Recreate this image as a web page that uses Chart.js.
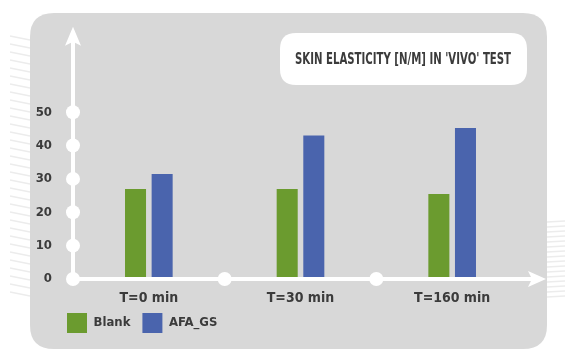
<!DOCTYPE html>
<html>
<head>
<meta charset="utf-8">
<script src="https://cdn.jsdelivr.net/npm/chart.js@4.4.1/dist/chart.umd.min.js"></script>
<style>
  html, body { margin: 0; padding: 0; background: #ffffff; }
  #wrap { width: 565px; height: 351px; }
</style>
</head>
<body>
<div id="wrap"><canvas id="chart" width="565" height="351"></canvas></div>
<script>
// Chart data
const categories = ['T=0 min', 'T=30 min', 'T=160 min'];
const blankValues = [27, 27, 25.5];
const afaGsValues = [31.5, 43, 45.3];
const yTickValues = [0, 10, 20, 30, 40, 50];
const chartTitle = "SKIN ELASTICITY [N/M] IN 'VIVO' TEST";

const FONT = "'Liberation Sans Narrow', 'DejaVu Sans Condensed', 'Roboto', sans-serif";
const TEXT_COLOR = '#3b3b3b';
const PANEL_COLOR = '#d8d8d8';

function roundRect(ctx, x, y, w, h, r) {
  ctx.beginPath();
  ctx.moveTo(x + r, y);
  ctx.lineTo(x + w - r, y);
  ctx.quadraticCurveTo(x + w, y, x + w, y + r);
  ctx.lineTo(x + w, y + h - r);
  ctx.quadraticCurveTo(x + w, y + h, x + w - r, y + h);
  ctx.lineTo(x + r, y + h);
  ctx.quadraticCurveTo(x, y + h, x, y + h - r);
  ctx.lineTo(x, y + r);
  ctx.quadraticCurveTo(x, y, x + r, y);
  ctx.closePath();
}

// Grey panel, decorative hatching and the title box
const backdrop = {
  id: 'backdrop',
  afterLayout(chart) {
    // move the legend under the y axis, like the original
    const lg = chart.legend;
    const w = lg.right - lg.left;
    lg.left = 55;
    lg.right = 55 + w;
    const h = lg.bottom - lg.top;
    lg.top = 301;
    lg.bottom = 301 + h;
  },
  beforeDraw(chart) {
    const ctx = chart.ctx;
    ctx.save();
    ctx.fillStyle = '#ffffff';
    ctx.fillRect(0, 0, chart.width, chart.height);

    // faint hatching outside the panel
    ctx.strokeStyle = '#ececec';
    ctx.lineWidth = 1.5;
    for (let y = 36; y < 300; y += 8) {
      ctx.beginPath();
      ctx.moveTo(10, y);
      ctx.lineTo(30, y + 4);
      ctx.stroke();
    }
    for (let y = 222; y < 300; y += 5) {
      ctx.beginPath();
      ctx.moveTo(547, y);
      ctx.lineTo(565, y - 1);
      ctx.stroke();
    }

    ctx.fillStyle = PANEL_COLOR;
    roundRect(ctx, 30, 13, 517, 336, 24);
    ctx.fill();

    // title box
    ctx.fillStyle = '#ffffff';
    roundRect(ctx, 280, 33, 247, 52, 16);
    ctx.fill();
    ctx.fillStyle = TEXT_COLOR;
    ctx.font = 'bold 16px ' + FONT;
    ctx.textAlign = 'center';
    ctx.textBaseline = 'middle';
    ctx.fillText(chartTitle, 403, 60, 216);
    ctx.restore();
  }
};

// Axis extensions, arrow heads and white dots
const axisDecor = {
  id: 'axisDecor',
  afterDatasetsDraw(chart) {
    const ctx = chart.ctx;
    const x = chart.scales.x;
    const y = chart.scales.y;
    const area = chart.chartArea;
    const x0 = area.left;
    const y0 = y.getPixelForValue(0);
    ctx.save();
    ctx.strokeStyle = '#ffffff';
    ctx.fillStyle = '#ffffff';
    ctx.lineWidth = 4;
    // x axis line
    ctx.beginPath();
    ctx.moveTo(x0, y0);
    ctx.lineTo(area.right + 10, y0);
    ctx.stroke();
    // y axis line
    ctx.beginPath();
    ctx.moveTo(x0, y0);
    ctx.lineTo(x0, area.top + 10);
    ctx.stroke();
    // arrow heads
    ctx.beginPath();
    ctx.moveTo(area.right + 18, y0);
    ctx.lineTo(area.right, y0 - 8);
    ctx.lineTo(area.right + 4, y0);
    ctx.lineTo(area.right, y0 + 8);
    ctx.closePath();
    ctx.fill();
    ctx.beginPath();
    ctx.moveTo(x0, area.top - 2);
    ctx.lineTo(x0 - 8, area.top + 17);
    ctx.lineTo(x0, area.top + 13);
    ctx.lineTo(x0 + 8, area.top + 17);
    ctx.closePath();
    ctx.fill();
    // dots on y ticks
    yTickValues.forEach(v => {
      ctx.beginPath();
      ctx.arc(x0, y.getPixelForValue(v), 7, 0, Math.PI * 2);
      ctx.fill();
    });
    // dots between categories
    for (let i = 1; i < categories.length; i++) {
      const px = (x.getPixelForValue(i - 1) + x.getPixelForValue(i)) / 2;
      ctx.beginPath();
      ctx.arc(px, y0, 7, 0, Math.PI * 2);
      ctx.fill();
    }
    ctx.restore();
  }
};

new Chart(document.getElementById('chart'), {
  type: 'bar',
  data: {
    labels: categories,
    datasets: [
      {
        label: 'Blank',
        data: blankValues,
        backgroundColor: '#6b9b2f',
        borderWidth: 0
      },
      {
        label: 'AFA_GS',
        data: afaGsValues,
        backgroundColor: '#4a64ad',
        borderWidth: 0
      }
    ]
  },
  options: {
    responsive: false,
    animation: false,
    datasets: {
      bar: { categoryPercentage: 0.351, barPercentage: 0.79 }
    },
    layout: { padding: { left: 10, right: 37, top: 22, bottom: 0 } },
    scales: {
      x: {
        grid: { display: false, drawTicks: false },
        border: { display: false },
        ticks: {
          color: TEXT_COLOR,
          padding: 11,
          font: { family: FONT, size: 14, weight: 'bold' }
        },
        afterFit: (scale) => { scale.height = 30; }
      },
      y: {
        min: 0,
        max: 75,
        grid: { display: false, drawTicks: false },
        border: { display: false },
        afterBuildTicks: (scale) => {
          scale.ticks = yTickValues.map(v => ({ value: v }));
        },
        ticks: {
          color: TEXT_COLOR,
          padding: 21,
          font: { family: FONT, size: 13, weight: 'bold' }
        },
        afterFit: (scale) => { scale.width = 63; }
      }
    },
    plugins: {
      legend: {
        position: 'bottom',
        align: 'start',
        labels: {
          boxWidth: 20,
          boxHeight: 20,
          padding: 12,
          color: TEXT_COLOR,
          font: { family: FONT, size: 13, weight: 'bold' }
        }
      },
      title: { display: false },
      tooltip: { enabled: false }
    }
  },
  plugins: [backdrop, axisDecor]
});
</script>
</body>
</html>
